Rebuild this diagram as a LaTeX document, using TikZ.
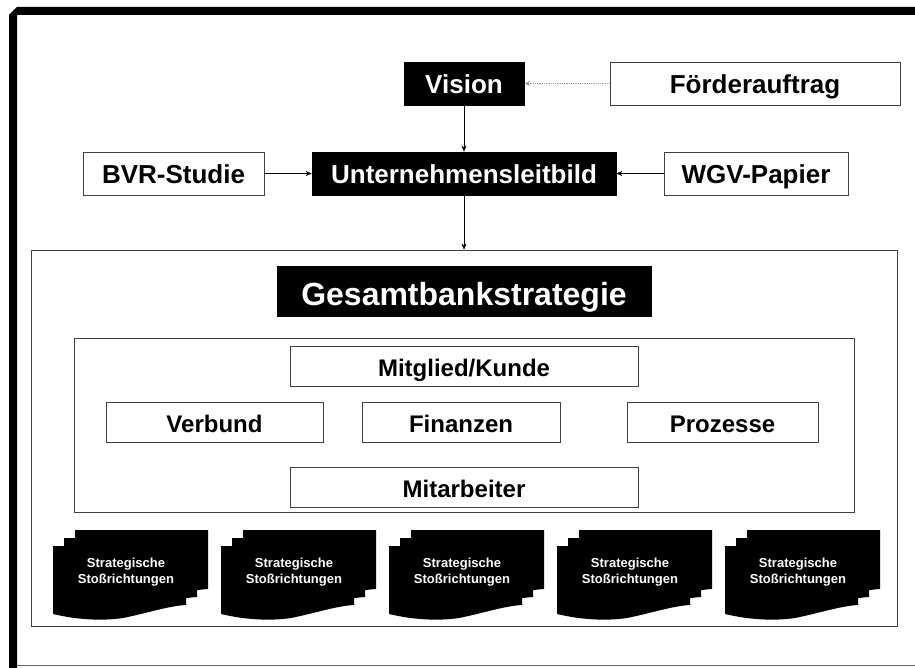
\documentclass[tikz,border=0pt]{standalone}
\usepackage{fontspec}
\setmainfont{Liberation Sans}
\usetikzlibrary{arrows.meta}

\begin{document}
\begin{tikzpicture}[x=1pt, y=-1pt, line join=miter, >={Stealth[length=6pt,width=5pt]},
  box/.style={draw=black!75, line width=0.8pt, fill=white, inner sep=0pt},
  dark/.style={box, draw=black, fill=black, text=white},
  big/.style={font=\fontsize{26}{30}\selectfont\bfseries, text height=23pt, text depth=3pt},
  mid/.style={font=\fontsize{24}{28}\selectfont\bfseries, text height=22pt, text depth=2pt},
  small/.style={font=\fontsize{13}{16}\selectfont\bfseries, text=white, align=center}]
	\useasboundingbox (0,0) rectangle (915,668);
	% frame
	\fill (9,668) -- (9,15) -- (17,7) -- (915,7) -- (915,15) -- (17,15) -- (17,668) -- cycle;
	\draw[black!60, line width=1pt] (17,665) -- (915,665);
	% top part
	\node[dark, big, minimum width=120, minimum height=43] (vision) at (464,83.5) {Vision};
	\node[box, big, minimum width=290, minimum height=43] (foerder) at (755,83.5) {Förderauftrag};
	\node[dark, big, minimum width=304, minimum height=43] (leitbild) at (464,173.5) {Unternehmensleitbild};
	\node[box, big, minimum width=181, minimum height=43] (bvr) at (173.5,173.5) {BVR-Studie};
	\node[box, big, minimum width=184, minimum height=43] (wgv) at (756,173.5) {WGV-Papier};
	% strategy
	\node[box, minimum width=866, minimum height=376] (gesamt) at (464,438) {};
	\node[dark, font=\fontsize{32}{36}\selectfont\bfseries, text height=30pt, text depth=2pt,
		minimum width=374, minimum height=50] (gbs) at (464,291) {Gesamtbankstrategie};
	\node[box, minimum width=780, minimum height=174] (inner) at (464,425) {};
	\node[box, mid, minimum width=348, minimum height=40] (kunde) at (464,366) {Mitglied/Kunde};
	\node[box, mid, minimum width=217, minimum height=40] (verbund) at (214.5,422) {Verbund};
	\node[box, mid, minimum width=198, minimum height=40] (finanzen) at (461,422) {Finanzen};
	\node[box, mid, minimum width=191, minimum height=40] (prozesse) at (722.5,422) {Prozesse};
	\node[box, mid, minimum width=348, minimum height=40] (mitarbeiter) at (464,487) {Mitarbeiter};
	% connectors
	\draw[->, black!40, densely dotted, line width=0.8pt] (foerder.west) -- (vision.east);
	\draw[->] (vision.south) -- (leitbild.north);
	\draw[->] (bvr.east) -- (leitbild.west);
	\draw[->] (wgv.west) -- (leitbild.east);
	\draw[->] (leitbild.south) -- (gesamt.north);
	% stacks of sheets
	\foreach \i in {0,...,4}{
		\begin{scope}[shift={(53+168*\i,546)}]
			\foreach \k in {2,1,0}
				\fill[shift={(11*\k,-8*\k)}] (0,0) -- (133,0) -- (133,59) .. controls (115,60) and (95,67) .. (70,72) .. controls (50,75) and (25,74) .. (0,68) -- cycle;
			\node[small] (strat\i) at (73,26) {Strategische\\Stoßrichtungen};
		\end{scope}
	}
\end{tikzpicture}
\end{document}
